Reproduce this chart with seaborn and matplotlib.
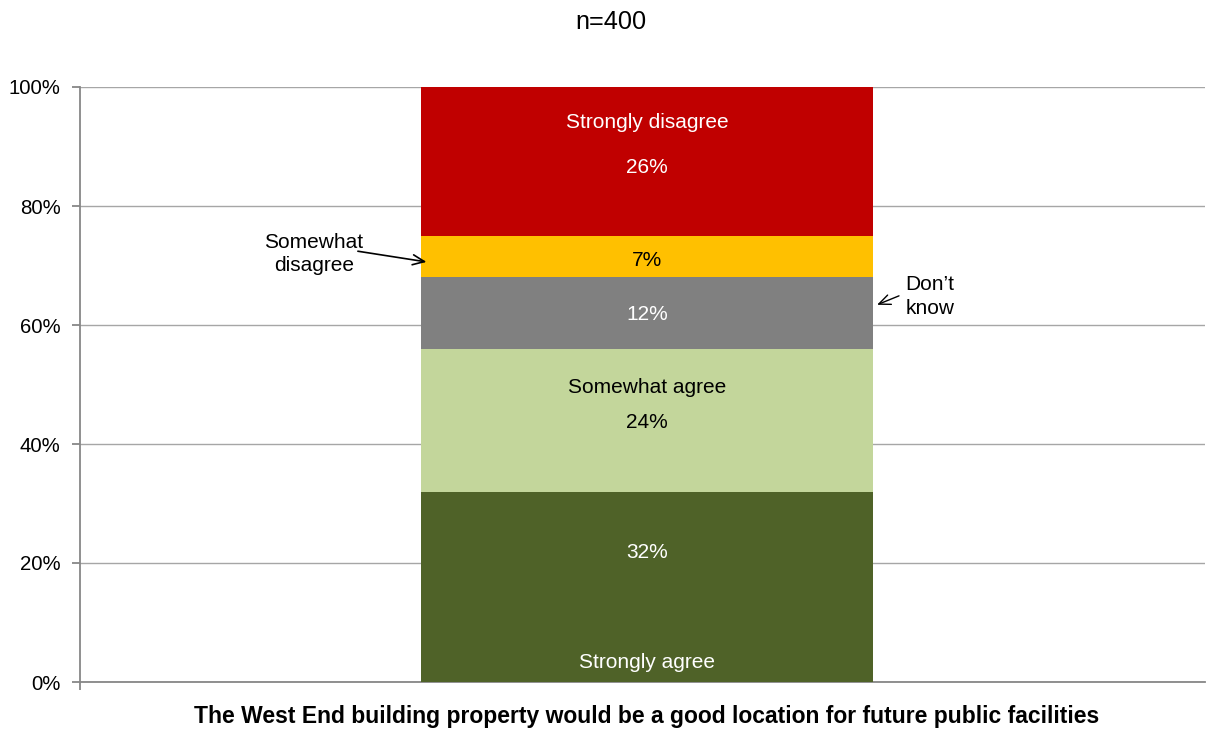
import matplotlib
matplotlib.use("Agg")
import matplotlib.pyplot as plt
import seaborn as sns
import pandas as pd
import numpy as np

categories = ["Strongly agree", "Somewhat agree", "Don't know", "Somewhat disagree", "Strongly disagree"]
values = [32, 24, 12, 7, 26]
colors = ["#4F6228", "#C3D69B", "#808080", "#FFC000", "#C00000"]
xlabel = "The West End building property would be a good location for future public facilities"
title = "n=400"

sns.set_theme(style="white")
plt.rcParams['font.family'] = ['Liberation Sans', 'DejaVu Sans']
plt.rcParams['text.color'] = 'black'

fig = plt.figure(figsize=(12.06, 7.3), dpi=100)
ax = fig.add_axes([80/1206, 1 - 682/730, 1125/1206, 595/730])

bottoms = np.concatenate([[0], np.cumsum(values)[:-1]])
for cat, v, b, c in zip(categories, values, bottoms, colors):
    df = pd.DataFrame({"q": ["q"], "v": [v]})
    sns.barplot(data=df, x="q", y="v", bottom=b, color=c, width=0.805,
                saturation=1, ax=ax, edgecolor="none", linewidth=0, zorder=3)

XL, XR = -1.008, 0.992
ax.set_xlim(XL, XR)
ax.set_ylim(0, 100)
ax.set_yticks(np.arange(0, 101, 20))
ax.set_yticklabels([f"{t}%" for t in range(0, 101, 20)], fontsize=14.7)
ax.yaxis.grid(True, color="#A6A6A6", linewidth=1, zorder=0)
ax.set_xticks([])
ax.set_xticks([XL], minor=True)
ax.tick_params(axis="x", which="minor", bottom=True, length=6, color="#878787", width=1.3)
ax.set_ylabel("")
ax.set_xlabel("")
for s in ["top", "right"]:
    ax.spines[s].set_visible(False)
for s in ["left", "bottom"]:
    ax.spines[s].set_color("#878787")
    ax.spines[s].set_linewidth(1.3)
ax.tick_params(axis="y", which="both", left=True, length=6, color="#878787", width=1.3, pad=8, labelcolor="black")

fig.text(610.5/1206, 1 - 22/730, title, ha="center", va="center", fontsize=18.2, color="black")
fig.text(646.5/1206, 1 - 716/730, xlabel, ha="center", va="center", fontsize=16.5,
         fontweight="bold", color="black")

fs = 15
ax.text(0, 94.1, "Strongly disagree", ha="center", va="center", color="white", fontsize=fs)
ax.text(0, 86.4, f"{values[4]}%", ha="center", va="center", color="white", fontsize=fs)
ax.text(0, 70.8, f"{values[3]}%", ha="center", va="center", color="black", fontsize=fs)
ax.text(0, 61.7, f"{values[2]}%", ha="center", va="center", color="white", fontsize=fs)
ax.text(0, 49.5, "Somewhat agree", ha="center", va="center", color="black", fontsize=fs)
ax.text(0, 43.6, f"{values[1]}%", ha="center", va="center", color="black", fontsize=fs)
ax.text(0, 21.7, f"{values[0]}%", ha="center", va="center", color="white", fontsize=fs)
ax.text(0, 3.2, "Strongly agree", ha="center", va="center", color="white", fontsize=fs)

# annotations
ax.text(-0.592, 71.9, "Somewhat\ndisagree", ha="center", va="center", fontsize=fs,
        color="black", linespacing=1.3)
ax.annotate("", xy=(-0.392, 70.6), xytext=(-0.514, 72.4),
            arrowprops=dict(arrowstyle="->,head_length=0.7,head_width=0.3", color="black",
                            lw=1.2, shrinkA=0, shrinkB=0))
ax.text(0.459, 64.8, "Don\u2019t\nknow", ha="left", va="center", fontsize=fs,
        color="black", linespacing=1.3)
ax.annotate("", xy=(0.409, 63.4), xytext=(0.448, 64.9),
            arrowprops=dict(arrowstyle="->,head_length=0.7,head_width=0.3", color="black",
                            lw=1.0, shrinkA=0, shrinkB=0))

fig.savefig("out.png", dpi=100, facecolor="white")
